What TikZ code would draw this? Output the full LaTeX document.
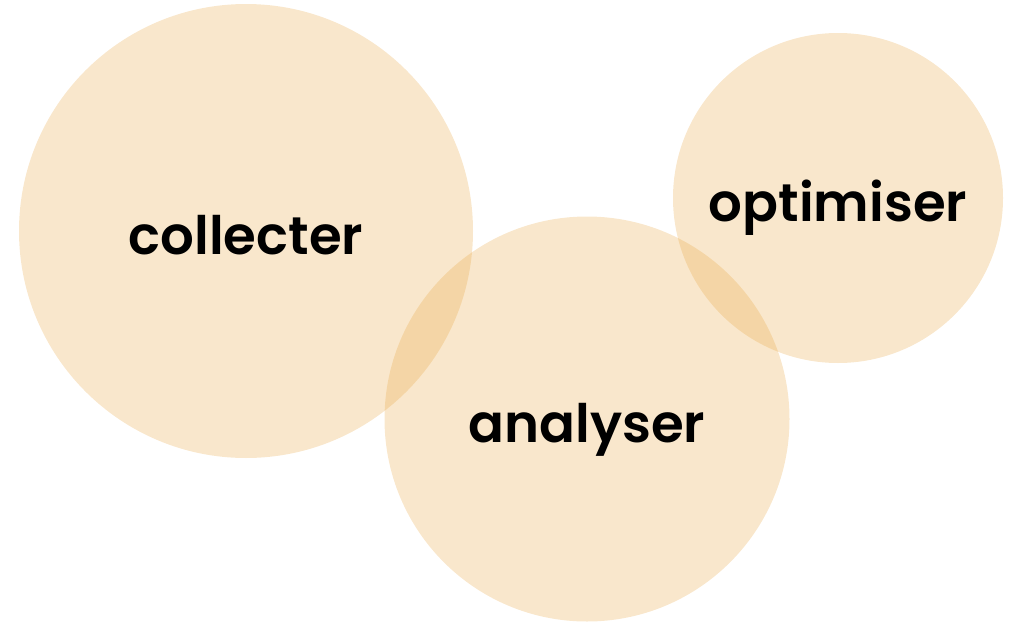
\documentclass[tikz,border=0pt]{standalone}
\usepackage{fontspec}
\setmainfont{Poppins}[BoldFont={Poppins SemiBold}]
\usepackage{tikz}
\usepackage{xcolor}
\definecolor{sable}{RGB}{231,161,55}

\tikzset{
  rond/.style={circle,fill=sable,fill opacity=0.255,text opacity=1,inner sep=0pt,outer sep=0pt,
    font=\fontsize{53}{53}\selectfont\bfseries,text height=46pt,text depth=0pt}
}

\begin{document}
\begin{tikzpicture}[x=1pt,y=-1pt]
  \useasboundingbox (0,0) rectangle (1009,621);
  \node[rond,minimum size=454pt] (collecter) at (246,231) {collecter};
  \node[rond,minimum size=405pt] (analyser) at (587,419) {analyser};
  \node[rond,minimum size=330pt] (optimiser) at (838,198) {optimiser};
\end{tikzpicture}
\end{document}
